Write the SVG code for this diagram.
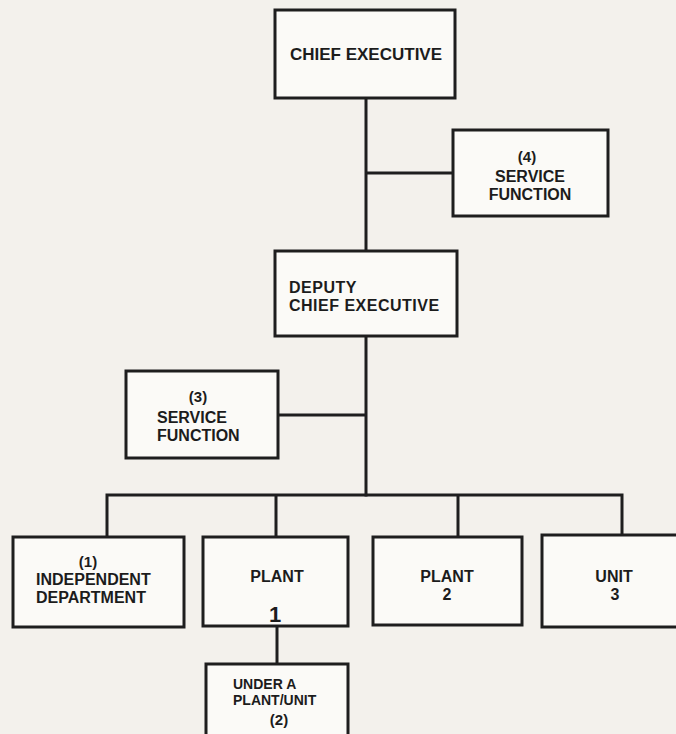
<svg xmlns="http://www.w3.org/2000/svg" width="676" height="734" viewBox="0 0 676 734">
<style>
.box{fill:#fbfaf7;stroke:#1e1e1e;stroke-width:3}
.ln{fill:none;stroke:#1e1e1e;stroke-width:3;stroke-linecap:square}
text{font-family:"Liberation Sans",Arial,sans-serif;font-weight:bold;fill:#1c1c1c;font-size:16px}
.c{text-anchor:middle}
.s{font-size:15px}
</style>
<rect x="0" y="0" width="676" height="734" fill="#f3f1ec"/>
<g id="connectors">
<path class="ln" d="M366 98V251M366 173H453"/>
<path class="ln" d="M366 336V495M366 415H278"/>
<path class="ln" d="M107 537V495H622V535M276 495V537M458 495V537"/>
<path class="ln" d="M277 626V664"/>
</g>
<g id="chief-executive">
<rect class="box" x="275" y="10" width="180" height="88"/>
<text class="c" x="366" y="60" style="font-size:17px">CHIEF EXECUTIVE</text>
</g>
<g id="service-function-4">
<rect class="box" x="453" y="130" width="155" height="86"/>
<text class="c s" x="527" y="162">(4)</text>
<text class="c" x="530" y="182">SERVICE</text>
<text class="c" x="530" y="200">FUNCTION</text>
</g>
<g id="deputy-chief-executive">
<rect class="box" x="275" y="251" width="182" height="85"/>
<text x="289" y="293" style="letter-spacing:0.5px">DEPUTY</text>
<text x="289" y="311" style="letter-spacing:0.5px">CHIEF EXECUTIVE</text>
</g>
<g id="service-function-3">
<rect class="box" x="126" y="371" width="152" height="87"/>
<text class="c s" x="198" y="402">(3)</text>
<text x="157" y="423">SERVICE</text>
<text x="157" y="441">FUNCTION</text>
</g>
<g id="independent-department">
<rect class="box" x="13" y="537" width="171" height="90"/>
<text class="c s" x="88" y="567">(1)</text>
<text x="36" y="585">INDEPENDENT</text>
<text x="36" y="603">DEPARTMENT</text>
</g>
<g id="plant-1">
<rect class="box" x="203" y="537" width="145" height="89"/>
<text class="c" x="277" y="582">PLANT</text>
<text class="c" x="275" y="622" style="font-size:22px">1</text>
</g>
<g id="plant-2">
<rect class="box" x="373" y="537" width="149" height="88"/>
<text class="c" x="447" y="582">PLANT</text>
<text class="c" x="447" y="600">2</text>
</g>
<g id="unit-3">
<rect class="box" x="542" y="535" width="150" height="92"/>
<text class="c" x="614" y="582">UNIT</text>
<text class="c" x="615" y="600">3</text>
</g>
<g id="under-a-plant-unit">
<rect class="box" x="206" y="664" width="142" height="90"/>
<text x="233" y="689" style="font-size:14px">UNDER A</text>
<text x="233" y="705" style="font-size:14px">PLANT/UNIT</text>
<text class="c s" x="279" y="725">(2)</text>
</g>
</svg>
